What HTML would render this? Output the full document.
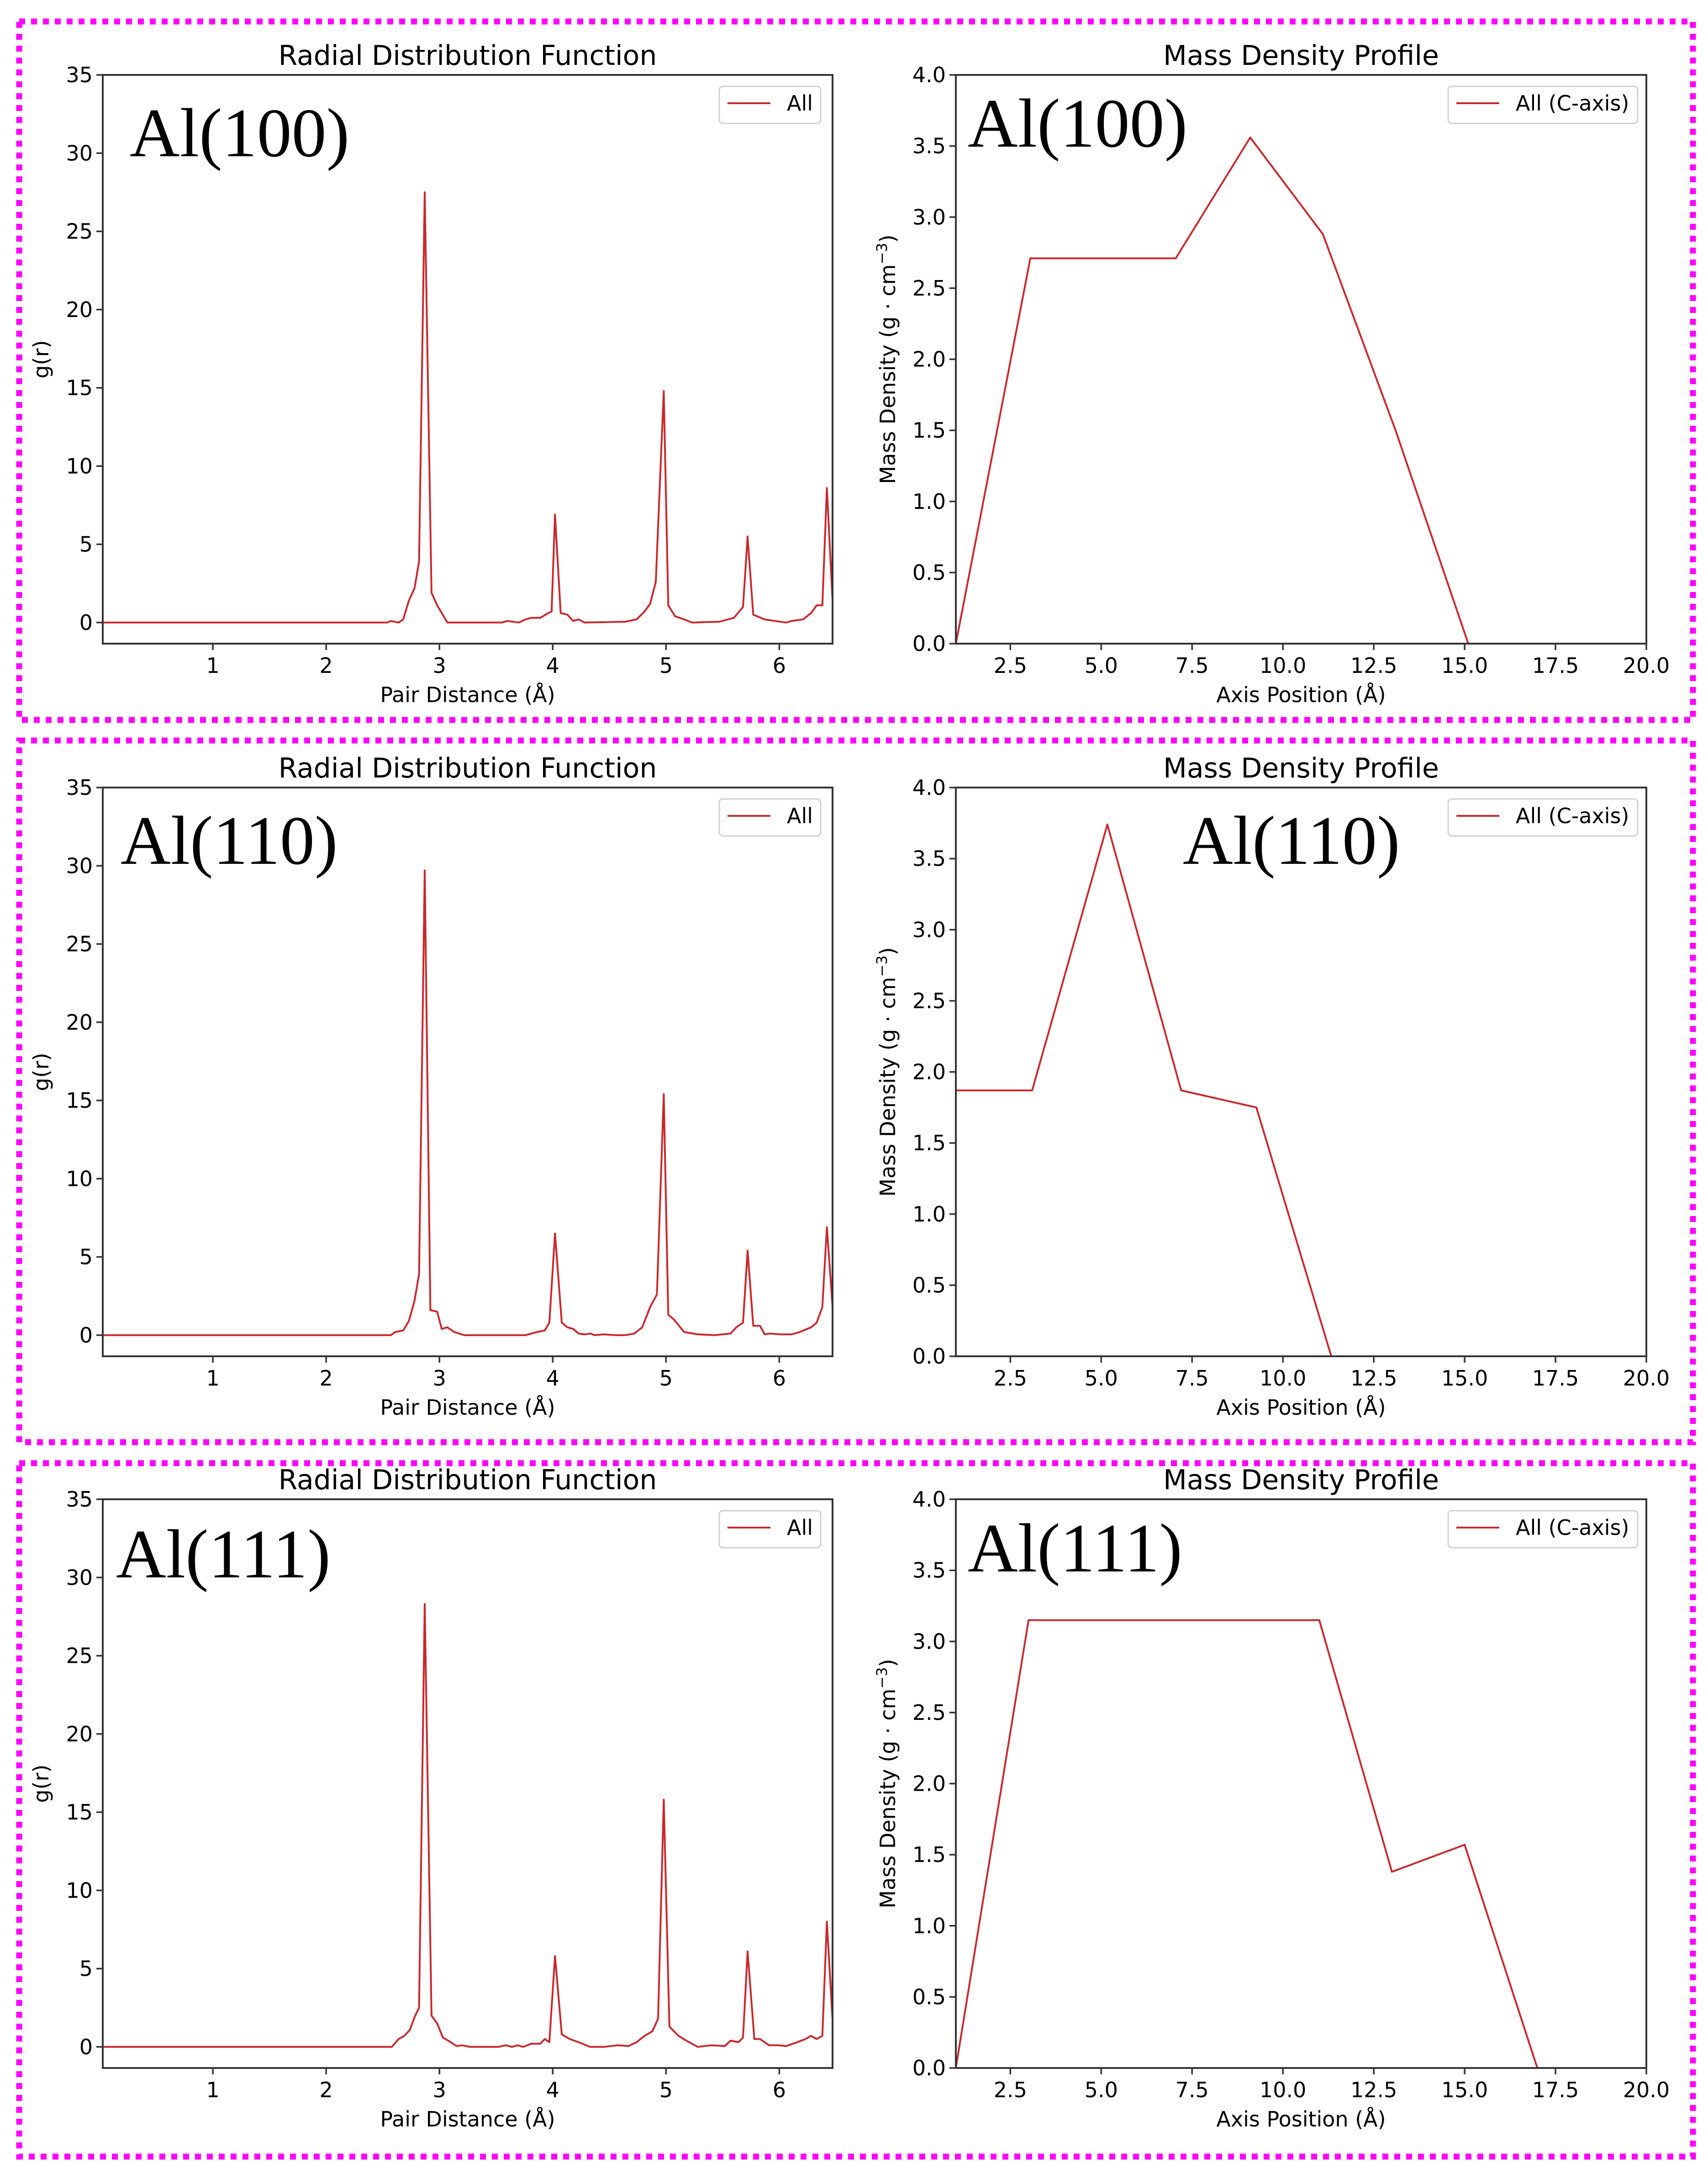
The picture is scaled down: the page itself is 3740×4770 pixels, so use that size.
<!DOCTYPE html>
<html><head><meta charset="utf-8"><title>RDF and Mass Density Profiles</title>
<style>html,body{margin:0;padding:0;background:#fff;}svg{display:block;}</style></head>
<body>
<svg id="fig" xmlns="http://www.w3.org/2000/svg" width="3740" height="4770" viewBox="0 0 3740 4770"></svg>
<script>
// ===== DATA =====
const panelNames = ["Al(100)", "Al(110)", "Al(111)"];
const rdfXTicks = [1, 2, 3, 4, 5, 6];
const rdfYTicks = [0, 5, 10, 15, 20, 25, 30, 35];
const mdpXTicks = [2.5, 5.0, 7.5, 10.0, 12.5, 15.0, 17.5, 20.0];
const mdpYTicks = [0.0, 0.5, 1.0, 1.5, 2.0, 2.5, 3.0, 3.5, 4.0];

const rdfR1 = [0.03,2.54,2.57,2.64,2.68,2.73,2.78,2.82,2.87,2.93,2.98,3.07,3.55,3.6,3.7,3.76,3.81,3.89,3.96,3.99,4.02,4.07,4.13,4.18,4.23,4.28,4.64,4.74,4.81,4.86,4.91,4.98,5.02,5.08,5.16,5.23,5.47,5.60,5.68,5.72,5.77,5.87,5.96,6.06,6.11,6.21,6.28,6.33,6.38,6.42,6.48];
const rdfG1 = [0,0,0.1,0,0.2,1.4,2.2,3.9,27.5,1.9,1.1,0,0,0.1,0,0.2,0.3,0.3,0.6,0.7,6.9,0.6,0.5,0.1,0.2,0,0.05,0.2,0.7,1.2,2.6,14.8,1.1,0.4,0.2,0,0.05,0.3,1.0,5.5,0.5,0.2,0.1,0,0.1,0.2,0.6,1.1,1.1,8.6,0];
const rdfR2 = [0.03,2.57,2.61,2.68,2.73,2.78,2.82,2.87,2.92,2.98,3.02,3.07,3.13,3.22,3.76,3.86,3.93,3.97,4.02,4.08,4.13,4.18,4.23,4.28,4.33,4.37,4.45,4.55,4.64,4.72,4.79,4.86,4.92,4.98,5.02,5.07,5.16,5.28,5.43,5.57,5.62,5.68,5.72,5.77,5.83,5.87,5.92,6.01,6.11,6.18,6.28,6.33,6.38,6.42,6.48];
const rdfG2 = [0,0,0.2,0.3,0.9,2.2,3.9,29.7,1.6,1.5,0.4,0.5,0.2,0,0,0.2,0.3,0.8,6.5,0.8,0.5,0.4,0.1,0.05,0.1,0,0.05,0,0,0.1,0.5,1.8,2.6,15.4,1.3,1.0,0.2,0.05,0,0.1,0.5,0.8,5.4,0.6,0.6,0.05,0.1,0.05,0.05,0.2,0.5,0.8,1.8,6.9,0.8];
const rdfR3 = [0.03,2.58,2.64,2.69,2.74,2.78,2.82,2.87,2.93,2.98,3.03,3.10,3.15,3.20,3.27,3.52,3.59,3.64,3.69,3.74,3.81,3.89,3.93,3.97,4.02,4.08,4.15,4.23,4.33,4.45,4.57,4.67,4.74,4.81,4.88,4.93,4.98,5.03,5.11,5.18,5.28,5.40,5.52,5.57,5.64,5.68,5.72,5.78,5.83,5.91,5.99,6.06,6.16,6.23,6.28,6.33,6.38,6.42,6.48];
const rdfG3 = [0,0,0.5,0.7,1.1,1.9,2.5,28.3,2.0,1.5,0.6,0.3,0.05,0.1,0,0,0.1,0,0.1,0,0.2,0.2,0.5,0.3,5.8,0.8,0.5,0.3,0,0,0.1,0.05,0.3,0.7,1.0,1.8,15.8,1.3,0.7,0.4,0,0.1,0.05,0.4,0.3,0.6,6.1,0.5,0.5,0.1,0.1,0.05,0.3,0.5,0.7,0.5,0.7,8.0,0.5];

const mdpX1 = [1.0,3.05,7.05,9.1,11.1,13.1,15.1,20.0];
const mdpY1 = [0,2.71,2.71,3.56,2.88,1.5,0,0];
const mdpX2 = [1.0,3.1,5.17,7.2,9.27,11.33,20.0];
const mdpY2 = [1.87,1.87,3.74,1.87,1.75,0,0];
const mdpX3 = [1.0,3.0,11.0,13.0,15.0,17.0,20.0];
const mdpY3 = [0,3.15,3.15,1.38,1.57,0,0];

// ===== LAYOUT =====
const NS = "http://www.w3.org/2000/svg";
const svg = document.getElementById("fig");
const FONT = "DejaVu Sans, Liberation Sans, sans-serif";
const RED = "#c8282e";
const rowOff = [0, 1560, 3118];
const frames = [[42,47,3707,1576],[42,1621,3707,3157],[42,3203,3707,4721]];
const L = {x0:225, x1:1823, xmin:0.028, xmax:6.47, ymin:-1.35, ymax:35};
const R = {x0:2093, x1:3605, xmin:1.0, xmax:20.0, ymin:0, ymax:4.0};
const TOP = 164, BOT = 1409;

function el(tag, attrs, parent){ const e=document.createElementNS(NS,tag); for(const k in attrs) e.setAttribute(k,attrs[k]); (parent||svg).appendChild(e); return e; }
function txt(s, attrs, parent){ const t=el("text",attrs,parent); t.textContent=s; return t; }

frames.forEach((f,i)=>{
  const r = el("rect",{x:f[0],y:f[1],width:f[2]-f[0],height:f[3]-f[1],fill:"none",stroke:"#ff00ff","stroke-width":13,"stroke-dasharray":"13 13"});
  
  
});

function drawChart(cfg, off, xs, ys, xticks, yticks, fmtX, fmtY, title, xlabel, ylabel, legendText, legBox, label, labelPos, prefix){
  const g = el("g",{});
  
  
  const top = TOP+off, bot = BOT+off;
  const sx = v => cfg.x0 + (v-cfg.xmin)/(cfg.xmax-cfg.xmin)*(cfg.x1-cfg.x0);
  const sy = v => bot - (v-cfg.ymin)/(cfg.ymax-cfg.ymin)*(bot-top);
  // clip
  const cid = prefix+"-clip";
  const cp = el("clipPath",{id:cid},g);
  el("rect",{x:cfg.x0,y:top,width:cfg.x1-cfg.x0,height:bot-top},cp);
  // series
  let d = "";
  xs.forEach((x,i)=>{ d += (i?"L":"M") + sx(x).toFixed(1) + " " + sy(ys[i]).toFixed(1); });
  const line = el("path",{d:d,fill:"none",stroke:RED,"stroke-width":4,"stroke-linejoin":"round","clip-path":"url(#"+cid+")"},g);
  
  
  // spines
  const sp = el("rect",{x:cfg.x0,y:top,width:cfg.x1-cfg.x0,height:bot-top,fill:"none",stroke:"#333","stroke-width":4},g);
  
  
  // x ticks
  xticks.forEach(v=>{
    const X = sx(v);
    el("line",{x1:X,y1:bot,x2:X,y2:bot+14,stroke:"#333","stroke-width":3.5},g);
    const t = txt(fmtX(v),{x:X,y:bot+64,"font-family":FONT,"font-size":46,"text-anchor":"middle",fill:"#000"},g);
    
    
  });
  yticks.forEach(v=>{
    const Y = sy(v);
    el("line",{x1:cfg.x0-14,y1:Y,x2:cfg.x0,y2:Y,stroke:"#333","stroke-width":3.5},g);
    const t = txt(fmtY(v),{x:cfg.x0-22,y:Y+16,"font-family":FONT,"font-size":46,"text-anchor":"end",fill:"#000"},g);
    
    
  });
  const cx = (cfg.x0+cfg.x1)/2;
  const tt = txt(title,{x:cx,y:top-22,"font-family":FONT,"font-size":60,"text-anchor":"middle",fill:"#000"},g);
  
  
  const xl = txt(xlabel,{x:cx,y:bot+128,"font-family":FONT,"font-size":46,"text-anchor":"middle",fill:"#000"},g);
  
  
  const ymid = (top+bot)/2;
  const yx = ylabel.x;
  const yl = el("text",{x:yx,y:ymid,"font-family":FONT,"font-size":46,"text-anchor":"middle",fill:"#000",transform:"rotate(-90 "+yx+" "+ymid+")"},g);
  yl.innerHTML = ylabel.html;
  
  
  // legend
  const lg = el("g",{},g);
  
  
  el("rect",{x:legBox[0],y:top+25,width:legBox[1]-legBox[0],height:81,rx:8,fill:"#fff",stroke:"#d0d0d0","stroke-width":3},lg);
  el("line",{x1:legBox[0]+18,y1:top+62,x2:legBox[0]+112,y2:top+62,stroke:RED,"stroke-width":4},lg);
  const lt = txt(legendText,{x:legBox[0]+148,y:top+78,"font-family":FONT,"font-size":46,fill:"#000"},lg);
  
  
  // annotation label
  const al = txt(label,{x:labelPos[0],y:labelPos[1]+off,"font-family":"Liberation Serif, serif","font-size":152,fill:"#000"},g);
  
  
}

const rdfR = [rdfR1, rdfR2, rdfR3];
const rdfG = [rdfG1, rdfG2, rdfG3];
const mdpX = [mdpX1, mdpX2, mdpX3];
const mdpY = [mdpY1, mdpY2, mdpY3];
const leftLabelPos = [[284,342],[264,331],[254,335]];
const rightLabelPos = [[2119,321],[2590,331],[2119,322]];

for (let i=0;i<3;i++){
  drawChart(L, rowOff[i], rdfR[i], rdfG[i], rdfXTicks, rdfYTicks, v=>String(v), v=>String(v),
    "Radial Distribution Function", "Pair Distance (Å)", {x:106, html:"g(r)"},
    "All", [1575,1797], panelNames[i], leftLabelPos[i], "rdf-"+(i+1));
  drawChart(R, rowOff[i], mdpX[i], mdpY[i], mdpXTicks, mdpYTicks, v=>v.toFixed(1), v=>v.toFixed(1),
    "Mass Density Profile", "Axis Position (Å)", {x:1960, html:'Mass Density (g · cm<tspan dy="-18" font-size="32">−3</tspan><tspan dy="18">)</tspan>'},
    "All (C-axis)", [3171,3586], panelNames[i], rightLabelPos[i], "mdp-"+(i+1));
}
</script>
</body></html>
